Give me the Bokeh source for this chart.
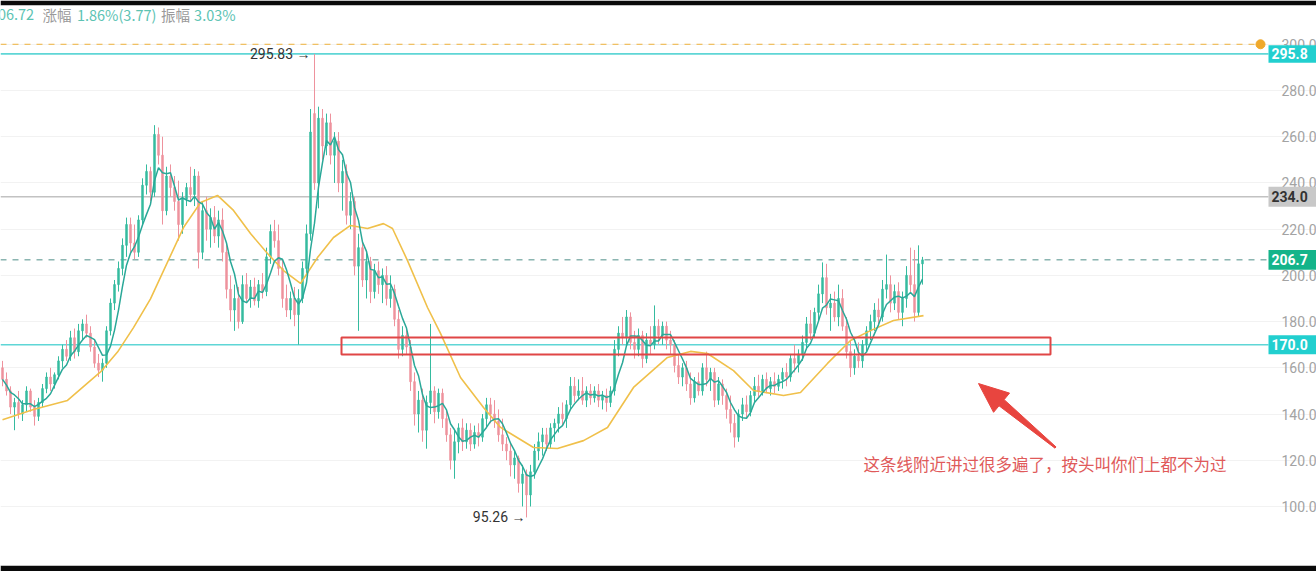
import math
import pandas as pd
from bokeh.plotting import figure
from bokeh.models import Range1d, FixedTicker, Grid, ColumnDataSource
from bokeh.core.properties import value
from bokeh.embed import file_html
from bokeh.resources import INLINE

# ---------------- data ----------------
opens = [160,155,150,143,145,140,144,150,143,139,145,151,156,153,157,163,168,165,173,167,
         176,179,175,169,162,159,162,176,188,196,203,213,222,214,210,224,239,245,236,261,
         252,228,243,238,232,222,233,238,235,243,210,228,220,225,217,224,210,194,185,190,
         180,196,190,195,189,196,193,208,219,215,203,190,185,190,183,190,203,218,270,240,
         268,256,266,252,258,240,245,226,232,204,212,198,206,193,202,196,200,190,194,181,
         168,174,169,154,140,146,133,145,150,141,149,138,131,120,128,134,128,133,127,132,
         130,138,144,140,137,131,127,124,118,121,110,114,105,115,124,128,131,127,134,136,
         140,138,144,152,148,150,146,150,147,150,146,148,145,150,168,175,173,182,171,168,
         174,164,172,170,178,174,178,172,170,161,156,160,153,147,154,150,160,155,158,146,
         153,148,142,136,130,140,144,141,148,152,150,155,151,154,152,155,158,156,164,162,
         166,171,179,175,184,192,199,186,188,182,190,178,167,160,165,163,170,176,180,185,
         182,194,196,188,193,184,190,200,196,184,205]
highs = [163,158,152,147,150,146,152,151,146,147,153,158,160,158,165,170,172,176,177,179,
         181,183,178,172,166,164,178,190,198,206,216,225,225,222,226,242,248,247,265,264,
         260,247,248,243,241,236,240,247,246,245,232,234,229,230,228,229,214,200,196,195,
         200,201,198,199,198,201,212,222,224,222,207,196,193,195,194,206,222,272,295.83,273,
         272,270,270,262,262,250,248,236,234,218,214,210,208,205,206,203,204,200,196,185,
         178,177,172,158,150,151,148,179,152,151,151,142,134,133,136,138,136,136,135,136,
         140,147,147,146,142,138,130,128,124,122,118,116,118,127,132,134,134,136,138,143,
         145,146,156,156,155,156,152,153,152,153,150,151,152,172,178,182,185,184,176,177,
         176,175,178,187,181,180,180,176,172,166,162,163,158,156,158,162,167,160,160,156,
         155,151,148,140,142,147,148,150,156,157,157,158,156,158,157,160,162,166,170,168,
         174,182,185,186,196,205.6,205,192,193,196,194,182,172,168,171,172,178,183,188,190,
         198,209,200,196,197,193,204,212,211,213,208]
lows = [152,148,140,133,138,137,141,141,135,137,143,149,150,151,155,160,163,163,164,165,
        172,173,167,160,156,154,160,174,185,193,200,208,210,207,208,222,235,232,234,248,
        222,226,234,228,215,218,230,232,230,203,207,215,212,214,212,206,190,180,176,177,
        179,188,186,187,186,190,191,205,212,200,186,182,181,178,170,188,200,215,237,229,
        250,252,248,240,236,228,222,220,200,176,195,190,188,190,192,188,187,186,178,164,
        165,166,150,135,132,128,125,140,136,138,134,128,116,112,123,124,125,124,125,126,
        128,134,136,134,128,124,120,113,112,106,100,95.26,100,112,120,122,124,125,128,132,
        135,134,142,145,146,144,143,144,145,143,142,141,143,148,165,170,170,168,164,165,
        160,162,166,168,170,170,168,166,158,153,152,150,144,145,148,148,152,150,143,144,
        144,138,132,125.5,128,137,138,139,145,147,148,149,148,149,150,151,152,154,158,158,
        163,168,172,173,180,188,183,176,180,178,176,164,156,157,160,160,167,172,176,179,
        180,190,184,185,181,178,186,192,180,182,196]
closes = [155,150,143,145,140,144,150,143,139,145,151,156,153,157,163,168,165,173,167,176,
          179,175,169,162,159,162,176,188,196,203,213,222,214,210,224,239,245,236,261,252,
          228,243,238,232,222,233,238,235,243,210,228,220,225,217,224,210,194,185,190,180,
          196,190,195,189,196,193,208,219,215,203,190,185,190,183,190,203,218,262,240,268,
          256,266,252,258,240,245,226,232,204,212,198,206,193,202,196,200,190,194,181,168,
          174,169,154,140,146,133,145,150,141,149,138,131,120,128,134,128,133,127,132,130,
          138,144,140,137,131,127,124,118,121,110,114,105,115,124,128,131,127,134,136,140,
          138,144,152,148,150,146,150,147,150,146,148,145,150,168,175,173,182,171,168,174,
          164,172,170,178,174,178,172,170,161,156,160,153,147,154,150,160,155,158,146,153,
          148,142,136,130,140,144,141,148,152,150,155,151,154,152,155,158,156,164,162,166,
          171,179,175,184,192,199,186,188,182,190,178,167,160,165,163,170,176,180,185,182,
          194,196,188,193,184,190,200,196,184,205,206.72]

# slow moving average (candle index, price)
slow_ma_idx = [0, 7.75, 16.25, 24.5, 28.75, 32.75, 37, 45.25, 49.5, 53.75, 57.75, 62, 66.25,
               70.25, 74.5, 78.75, 82.75, 87, 91.25, 95.25, 97.5, 101.25, 106.25, 109.5, 114.5,
               120.25, 124.5, 132.75, 138.75, 145.25, 151.25, 157.75, 166.25, 172, 176.25,
               182.75, 187.75, 195.25, 199.5, 206.25, 212, 217, 222.75, 230.25]
slow_ma_val = [137.5, 142, 145.9, 158.2, 166.8, 177.4, 189.8, 220.7, 231.5, 234.6, 228.1, 218.1,
               209.5, 202.1, 196.5, 207.7, 216.4, 221.6, 220.3, 222.4, 220.3, 206.4, 186.1, 174.9,
               155.8, 142.8, 134.2, 125.5, 125.1, 128.5, 134.2, 151.5, 164.5, 167.1, 166.2,
               158.8, 150.2, 148.0, 149.3, 161.9, 171.8, 176.1, 180.5, 182.6]

y_ticks = [100, 120, 140, 160, 180, 200, 220, 240, 260, 280, 300]
level_prices = [295.83, 234.00, 206.72, 170.00]
level_tags = ["295.8", "234.0", "206.7", "170.0"]
alert_price = 300.0

zone_left, zone_right = [84.75], [262.0]
zone_bottom, zone_top = [165.8], [173.1]
note_text = "这条线附近讲过很多遍了，按头叫你们上都不为过"
note_pos = (215.25, 118.2)
arrow_tail = (263.25, 125.5)
arrow_tip = (244.0, 153.2)

header_parts = ["206.72", "涨幅", "1.86%(3.77)", "振幅", "3.03%"]
header_x = [7.9, 10.0, 18.6, 39.6, 47.9]
header_align = ["right", "left", "left", "left", "left"]
header_colors = ["#5cc3b3", "#9a9a9a", "#5cc3b3", "#9a9a9a", "#5cc3b3"]

# ---------------- chart ----------------
W, H, TOP, BOT = 1316, 571, 5, 6
x0, x1 = -0.5, 328.5            # candle index range across the frame
y0, y1 = 74.46, 316.78          # price range across the frame
axis_x = 316.5                  # where the price column starts
label_x = 319.75                # tick label position
tag_x = 317.25                  # price tag text position
sx = W / (x1 - x0)
sy = (H - TOP - BOT) / (y1 - y0)

UP, DOWN = "#35bb9f", "#ee929d"
idx = list(range(len(closes)))
colors = [UP if c >= o else DOWN for o, c in zip(opens, closes)]
src = ColumnDataSource(dict(x=idx, o=opens, h=highs, l=lows, c=closes, color=colors,
                            top=[max(o, c) for o, c in zip(opens, closes)],
                            bot=[min(o, c) for o, c in zip(opens, closes)]))
fast_ma = pd.Series(closes).rolling(5, min_periods=1).mean().tolist()

p = figure(width=W, height=H, x_range=Range1d(x0, x1), y_range=Range1d(y0, y1),
           output_backend="svg", toolbar_location=None, x_axis_location=None,
           y_axis_location=None, min_border_left=0, min_border_right=0,
           min_border_top=TOP, min_border_bottom=BOT)
p.outline_line_color = None
p.background_fill_color = "white"
p.border_fill_color = "#0a0a0a"
p.grid.visible = False
p.add_layout(Grid(dimension=1, ticker=FixedTicker(ticks=y_ticks), grid_line_color="#f2f2f2"))

# price column: tick labels
p.text([label_x] * len(y_ticks), y_ticks, text=["%.1f" % t for t in y_ticks],
       text_align="left", text_baseline="middle", text_color="#a3a3a3",
       text_font_size="14px", text_font=value("Roboto"))

# horizontal levels (end where the price column starts)
p.segment([x0], [alert_price], [314.5], [alert_price], line_color="#efb23a",
          line_dash="6 6", line_width=1)
p.scatter([314.5], [alert_price], size=9, color="#f0a92a")
lvl_colors = ["#5fd6d6", "#c2c2c2", "#4f8f88", "#5fd6d6"]
lvl_dash = ["solid", "solid", "6 6", "solid"]
lvl_width = [1.6, 1.6, 1.0, 1.6]
for pr, c, d, w in zip(level_prices, lvl_colors, lvl_dash, lvl_width):
    p.segment([x0], [pr], [axis_x], [pr], line_color=c, line_dash=d, line_width=w)

# candles
p.segment(x0="x", y0="h", x1="x", y1="l", color="color", line_width=1, source=src)
p.vbar(x="x", top="top", bottom="bot", width=0.5, fill_color="color", line_color="color",
       line_width=0.5, source=src)

# moving averages
p.line(slow_ma_idx, slow_ma_val, line_color="#f0c04a", line_width=1.6)
p.line(idx, fast_ma, line_color="#2aa898", line_width=1.5)

# high / low markers
hi_i = highs.index(max(highs))
lo_i = lows.index(min(lows))
p.text([hi_i], [max(highs)], text=["%.2f →" % max(highs)], text_align="right",
       text_baseline="middle", x_offset=-4, text_color="#333333", text_font_size="14px",
       text_font=value("Roboto"))
p.text([lo_i], [min(lows)], text=["%.2f →" % min(lows)], text_align="right",
       text_baseline="middle", x_offset=-1, text_color="#333333", text_font_size="14px",
       text_font=value("Roboto"))

# zone rectangle
p.quad(left=zone_left, right=zone_right, bottom=zone_bottom, top=zone_top,
       fill_alpha=0, line_color="#e04646", line_width=2)

# tapered arrow (built in screen pixels, converted back through the scales)
tx, ty = arrow_tail[0] * sx, -arrow_tail[1] * sy
px_, py_ = arrow_tip[0] * sx, -arrow_tip[1] * sy
L = math.hypot(px_ - tx, py_ - ty)
ux, uy = (px_ - tx) / L, (py_ - ty) / L
nx, ny = -uy, ux
hl, hw, bw, tw = 30.0, 12.5, 4.0, 0.8
bx, by = px_ - ux * hl, py_ - uy * hl
pts = [(tx + nx * tw, ty + ny * tw), (bx + nx * bw, by + ny * bw), (bx + nx * hw, by + ny * hw),
       (px_, py_), (bx - nx * hw, by - ny * hw), (bx - nx * bw, by - ny * bw),
       (tx - nx * tw, ty - ny * tw)]
p.patch([q[0] / sx for q in pts], [-q[1] / sy for q in pts], fill_color="#e8453f",
        line_color="#e8453f", line_width=1)

p.text([note_pos[0]], [note_pos[1]], text=[note_text], text_align="left",
       text_baseline="middle", text_color="#e05a5a", text_font_size="16.5px",
       text_font=value("Noto Sans CJK SC"))

# header line at the top
p.text(header_x, [312.9] * len(header_parts), text=header_parts, text_align=header_align,
       text_baseline="middle", text_color=header_colors, text_font_size="14.5px",
       text_font=value("Noto Sans CJK SC"))

# price tags in the price column
tag_fill = ["#22cfcf", "#c8c8c8", "#14b48a", "#22cfcf"]
tag_text = ["white", "#333333", "white", "white"]
tag_half = [3.8, 4.3, 4.3, 4.1]
p.quad(left=[axis_x] * 4, right=[x1 + 1] * 4,
       bottom=[pr - h for pr, h in zip(level_prices, tag_half)],
       top=[pr + h for pr, h in zip(level_prices, tag_half)],
       fill_color=tag_fill, line_color=None)
p.text([tag_x] * 4, level_prices, text=level_tags, text_align="left", text_baseline="middle",
       text_color=tag_text, text_font_size="14px", text_font_style="bold",
       text_font=value("Roboto"))

open("out.html", "w").write(file_html(p, INLINE))
